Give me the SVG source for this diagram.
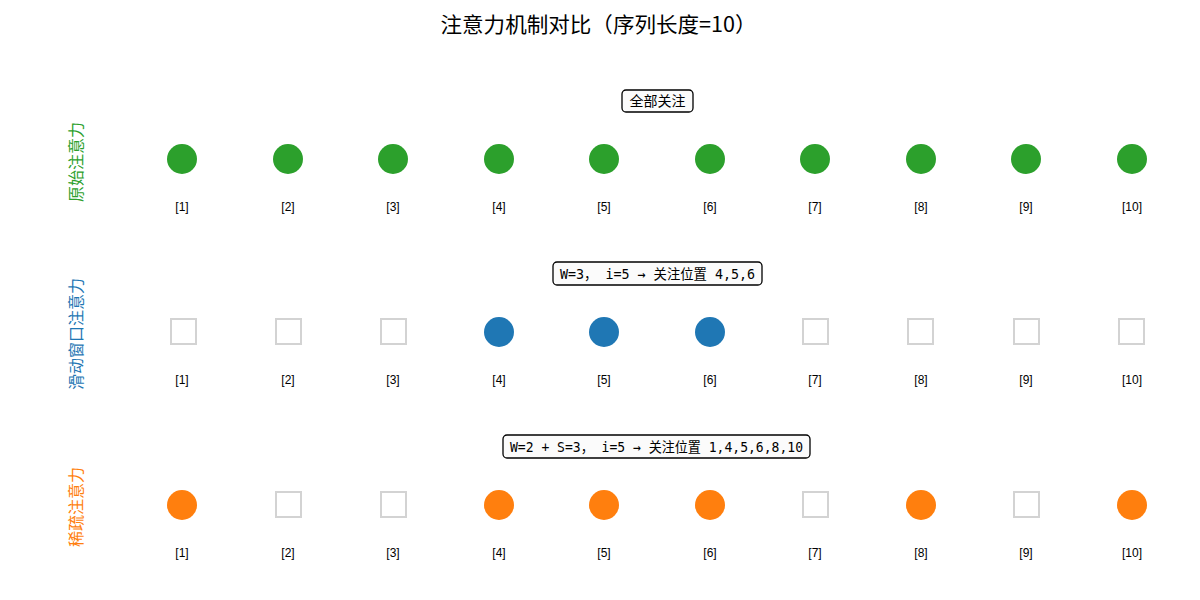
<svg xmlns="http://www.w3.org/2000/svg" width="1200" height="600" viewBox="0 0 1200 600">
<style>
.title{font-family:"Noto Sans CJK SC","Noto Sans",sans-serif;font-size:21px;fill:#000;text-anchor:middle}
.rowlab{font-family:"Noto Sans CJK SC",sans-serif;font-size:16px;text-anchor:middle}
.idx{font-family:"Liberation Sans","Noto Sans CJK SC",sans-serif;font-size:12px;fill:#000;text-anchor:middle}
.note{font-family:"DejaVu Sans Mono","Noto Sans CJK SC",monospace;font-size:14px;fill:#000;text-anchor:middle}
.box{fill:#fbfbfb;stroke:#000;stroke-width:1.3}
.sq{fill:#fff;stroke:#d3d3d3;stroke-width:2}
.g{fill:#2ca02c}.b{fill:#1f77b4}.o{fill:#ff7f0e}
</style>
<rect width="1200" height="600" fill="#fff"/>
<text class="title" x="598.5" y="32" textLength="316" lengthAdjust="spacingAndGlyphs">注意力机制对比（序列长度=10）</text>

<g id="row-full">
<text class="rowlab" fill="#2ca02c" transform="translate(82,162) rotate(-90)">原始注意力</text>
<g id="note-full"><rect class="box" x="622" y="90" width="71" height="22" rx="4"/><text class="note" x="657.5" y="106">全部关注</text></g>
<circle class="g" cx="182" cy="159" r="15"/>
<circle class="g" cx="288" cy="159" r="15"/>
<circle class="g" cx="393" cy="159" r="15"/>
<circle class="g" cx="499" cy="159" r="15"/>
<circle class="g" cx="604" cy="159" r="15"/>
<circle class="g" cx="710" cy="159" r="15"/>
<circle class="g" cx="815" cy="159" r="15"/>
<circle class="g" cx="921" cy="159" r="15"/>
<circle class="g" cx="1026" cy="159" r="15"/>
<circle class="g" cx="1132" cy="159" r="15"/>
<text class="idx" x="182" y="211">[1]</text>
<text class="idx" x="288" y="211">[2]</text>
<text class="idx" x="393" y="211">[3]</text>
<text class="idx" x="499" y="211">[4]</text>
<text class="idx" x="604" y="211">[5]</text>
<text class="idx" x="710" y="211">[6]</text>
<text class="idx" x="815" y="211">[7]</text>
<text class="idx" x="921" y="211">[8]</text>
<text class="idx" x="1026" y="211">[9]</text>
<text class="idx" x="1132" y="211">[10]</text>
</g>

<g id="row-sliding">
<text class="rowlab" fill="#1f77b4" transform="translate(82,334) rotate(-90)">滑动窗口注意力</text>
<g id="note-sliding"><rect class="box" x="553" y="262" width="209" height="23" rx="4"/><text class="note" x="657.5" y="278.5" textLength="195" lengthAdjust="spacingAndGlyphs">W=3， i=5 → 关注位置 4,5,6</text></g>
<rect class="sq" x="171" y="319" width="25" height="25"/>
<rect class="sq" x="276" y="319" width="25" height="25"/>
<rect class="sq" x="381" y="319" width="25" height="25"/>
<circle class="b" cx="499" cy="332" r="15"/>
<circle class="b" cx="604" cy="332" r="15"/>
<circle class="b" cx="710" cy="332" r="15"/>
<rect class="sq" x="803" y="319" width="25" height="25"/>
<rect class="sq" x="908" y="319" width="25" height="25"/>
<rect class="sq" x="1014" y="319" width="25" height="25"/>
<rect class="sq" x="1119" y="319" width="25" height="25"/>
<text class="idx" x="182" y="384">[1]</text>
<text class="idx" x="288" y="384">[2]</text>
<text class="idx" x="393" y="384">[3]</text>
<text class="idx" x="499" y="384">[4]</text>
<text class="idx" x="604" y="384">[5]</text>
<text class="idx" x="710" y="384">[6]</text>
<text class="idx" x="815" y="384">[7]</text>
<text class="idx" x="921" y="384">[8]</text>
<text class="idx" x="1026" y="384">[9]</text>
<text class="idx" x="1132" y="384">[10]</text>
</g>

<g id="row-sparse">
<text class="rowlab" fill="#ff7f0e" transform="translate(82,507) rotate(-90)">稀疏注意力</text>
<g id="note-sparse"><rect class="box" x="503" y="435" width="307" height="23" rx="4"/><text class="note" x="656.5" y="451.5" textLength="293" lengthAdjust="spacingAndGlyphs">W=2 + S=3， i=5 → 关注位置 1,4,5,6,8,10</text></g>
<circle class="o" cx="182" cy="505" r="15"/>
<rect class="sq" x="276" y="492" width="25" height="25"/>
<rect class="sq" x="381" y="492" width="25" height="25"/>
<circle class="o" cx="499" cy="505" r="15"/>
<circle class="o" cx="604" cy="505" r="15"/>
<circle class="o" cx="710" cy="505" r="15"/>
<rect class="sq" x="803" y="492" width="25" height="25"/>
<circle class="o" cx="921" cy="505" r="15"/>
<rect class="sq" x="1014" y="492" width="25" height="25"/>
<circle class="o" cx="1132" cy="505" r="15"/>
<text class="idx" x="182" y="557">[1]</text>
<text class="idx" x="288" y="557">[2]</text>
<text class="idx" x="393" y="557">[3]</text>
<text class="idx" x="499" y="557">[4]</text>
<text class="idx" x="604" y="557">[5]</text>
<text class="idx" x="710" y="557">[6]</text>
<text class="idx" x="815" y="557">[7]</text>
<text class="idx" x="921" y="557">[8]</text>
<text class="idx" x="1026" y="557">[9]</text>
<text class="idx" x="1132" y="557">[10]</text>
</g>
<g id="connectors"/>
</svg>
